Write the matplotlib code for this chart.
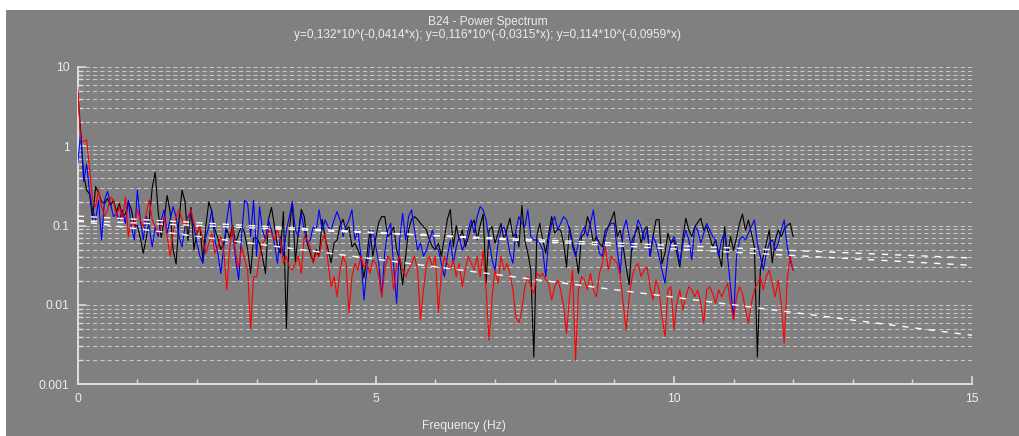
# B24 power spectrum: three channels + exponential fits, log y axis

import matplotlib.pyplot as plt
from matplotlib.patches import Rectangle
from matplotlib.ticker import LogLocator, NullFormatter, MultipleLocator
import numpy as np

plt.rcParams['font.family'] = ['Liberation Sans', 'DejaVu Sans']

# Spectrum values, one bin every 0.05 Hz from 0 to 12 Hz
freq_step = 0.05

black = [
    5.0, 1.5, 0.44, 0.28, 0.25, 0.12, 0.31, 0.26, 0.2, 0.19, 0.22, 0.18, 0.21, 0.15, 0.19, 0.13, 0.14, 0.2, 0.16, 0.1,
    0.1, 0.07, 0.045, 0.07, 0.12, 0.3, 0.47, 0.15, 0.07, 0.12, 0.24, 0.15, 0.05, 0.033, 0.12, 0.28, 0.2, 0.065, 0.17, 0.05,
    0.08, 0.1, 0.036, 0.1, 0.2, 0.15, 0.09, 0.07, 0.05, 0.06, 0.09, 0.07, 0.1, 0.06, 0.08, 0.1, 0.08, 0.05, 0.025, 0.07,
    0.07, 0.06, 0.04, 0.025, 0.12, 0.17, 0.1, 0.055, 0.045, 0.15, 0.005, 0.09, 0.2, 0.035, 0.08, 0.16, 0.13, 0.06, 0.045, 0.035,
    0.05, 0.041, 0.12, 0.07, 0.05, 0.034, 0.06, 0.066, 0.1, 0.12, 0.088, 0.097, 0.054, 0.06, 0.049, 0.04, 0.022, 0.041, 0.088, 0.041,
    0.07, 0.11, 0.13, 0.13, 0.073, 0.08, 0.097, 0.049, 0.037, 0.018, 0.041, 0.088, 0.12, 0.13, 0.12, 0.107, 0.097, 0.088, 0.066, 0.054,
    0.05, 0.06, 0.041, 0.07, 0.12, 0.16, 0.054, 0.1, 0.066, 0.088, 0.054, 0.07, 0.1, 0.118, 0.066, 0.1, 0.14, 0.019, 0.088, 0.097,
    0.06, 0.08, 0.107, 0.066, 0.09, 0.124, 0.073, 0.08, 0.054, 0.18, 0.066, 0.045, 0.028, 0.0022, 0.073, 0.107, 0.066, 0.045, 0.08, 0.13,
    0.08, 0.09, 0.088, 0.06, 0.03, 0.097, 0.06, 0.045, 0.025, 0.073, 0.08, 0.13, 0.1, 0.06, 0.073, 0.06, 0.054, 0.088, 0.097, 0.12,
    0.15, 0.073, 0.088, 0.054, 0.03, 0.018, 0.066, 0.08, 0.097, 0.06, 0.088, 0.097, 0.041, 0.073, 0.118, 0.12, 0.033, 0.045, 0.08, 0.06,
    0.066, 0.045, 0.03, 0.07, 0.124, 0.088, 0.073, 0.097, 0.11, 0.124, 0.088, 0.097, 0.073, 0.054, 0.066, 0.045, 0.03, 0.097, 0.041, 0.073,
    0.049, 0.07, 0.107, 0.14, 0.088, 0.118, 0.08, 0.054, 0.0022, 0.028, 0.041, 0.06, 0.088, 0.034, 0.066, 0.088, 0.073, 0.09, 0.1, 0.107,
    0.073]

blue = [
    0.6, 1.5, 0.36, 0.6, 0.26, 0.158, 0.118, 0.21, 0.066, 0.21, 0.27, 0.19, 0.13, 0.143, 0.118, 0.158, 0.107, 0.21, 0.097, 0.066,
    0.28, 0.118, 0.066, 0.13, 0.097, 0.054, 0.097, 0.073, 0.118, 0.158, 0.08, 0.118, 0.174, 0.13, 0.073, 0.054, 0.097, 0.13, 0.143, 0.097,
    0.06, 0.041, 0.0335, 0.073, 0.097, 0.158, 0.066, 0.045, 0.025, 0.054, 0.118, 0.21, 0.08, 0.037, 0.0207, 0.08, 0.21, 0.19, 0.073, 0.21,
    0.041, 0.174, 0.088, 0.066, 0.118, 0.088, 0.06, 0.0335, 0.073, 0.041, 0.088, 0.13, 0.2, 0.088, 0.073, 0.143, 0.088, 0.06, 0.066, 0.097,
    0.088, 0.158, 0.088, 0.118, 0.097, 0.088, 0.118, 0.15, 0.118, 0.073, 0.097, 0.118, 0.158, 0.066, 0.088, 0.041, 0.0116, 0.0276, 0.06, 0.088,
    0.054, 0.0335, 0.0127, 0.045, 0.088, 0.107, 0.03, 0.0105, 0.066, 0.143, 0.066, 0.13, 0.158, 0.088, 0.049, 0.06, 0.041, 0.049, 0.066, 0.088,
    0.054, 0.049, 0.0335, 0.0228, 0.041, 0.066, 0.0335, 0.054, 0.073, 0.049, 0.06, 0.088, 0.118, 0.08, 0.13, 0.174, 0.158, 0.118, 0.066, 0.037,
    0.0276, 0.06, 0.088, 0.097, 0.073, 0.045, 0.0335, 0.088, 0.13, 0.107, 0.097, 0.158, 0.073, 0.066, 0.066, 0.06, 0.049, 0.0228, 0.066, 0.107,
    0.13, 0.088, 0.107, 0.13, 0.118, 0.088, 0.054, 0.041, 0.06, 0.08, 0.097, 0.073, 0.107, 0.158, 0.073, 0.045, 0.041, 0.073, 0.097, 0.107,
    0.107, 0.049, 0.025, 0.088, 0.118, 0.073, 0.049, 0.08, 0.118, 0.097, 0.066, 0.088, 0.041, 0.073, 0.06, 0.041, 0.0276, 0.0188, 0.041, 0.06,
    0.073, 0.054, 0.0335, 0.06, 0.088, 0.066, 0.037, 0.097, 0.088, 0.06, 0.08, 0.107, 0.088, 0.073, 0.066, 0.041, 0.066, 0.08, 0.041, 0.017,
    0.0065, 0.041, 0.066, 0.073, 0.066, 0.08, 0.097, 0.118, 0.06, 0.041, 0.0276, 0.045, 0.06, 0.066, 0.049, 0.06, 0.088, 0.118, 0.054, 0.037,
    0.0276]

red = [
    5.5, 1.2, 1.15, 1.2, 0.5, 0.21, 0.174, 0.28, 0.174, 0.13, 0.158, 0.23, 0.21, 0.13, 0.174, 0.118, 0.23, 0.073, 0.118, 0.097,
    0.158, 0.118, 0.097, 0.143, 0.21, 0.118, 0.097, 0.08, 0.097, 0.13, 0.073, 0.041, 0.08, 0.13, 0.158, 0.118, 0.097, 0.13, 0.158, 0.107,
    0.08, 0.097, 0.066, 0.045, 0.06, 0.08, 0.045, 0.054, 0.073, 0.049, 0.0155, 0.054, 0.097, 0.045, 0.03, 0.054, 0.037, 0.0276, 0.005, 0.0228,
    0.0228, 0.041, 0.06, 0.066, 0.088, 0.08, 0.066, 0.088, 0.066, 0.0335, 0.041, 0.03, 0.0276, 0.0335, 0.041, 0.025, 0.073, 0.066, 0.054, 0.0335,
    0.045, 0.041, 0.066, 0.08, 0.0335, 0.017, 0.0228, 0.0127, 0.0276, 0.041, 0.0335, 0.0079, 0.0228, 0.0335, 0.0276, 0.041, 0.03, 0.0335, 0.025, 0.037,
    0.0335, 0.0228, 0.0127, 0.0276, 0.041, 0.037, 0.0155, 0.0335, 0.041, 0.0276, 0.0228, 0.0276, 0.0335, 0.041, 0.0276, 0.0065, 0.0155, 0.0335, 0.041, 0.03,
    0.041, 0.0079, 0.025, 0.041, 0.0335, 0.0276, 0.037, 0.0228, 0.0335, 0.017, 0.0276, 0.041, 0.0335, 0.0276, 0.041, 0.0228, 0.049, 0.0155, 0.0036, 0.0127,
    0.0276, 0.0188, 0.041, 0.0276, 0.0335, 0.025, 0.0155, 0.0071, 0.0059, 0.0087, 0.017, 0.0228, 0.017, 0.014, 0.025, 0.0228, 0.025, 0.0207, 0.0188, 0.0116,
    0.017, 0.0207, 0.0155, 0.0095, 0.0044, 0.0127, 0.0276, 0.002, 0.0155, 0.0228, 0.0207, 0.0155, 0.025, 0.0155, 0.0127, 0.025, 0.0335, 0.054, 0.0276, 0.041,
    0.037, 0.0335, 0.0228, 0.0105, 0.0048, 0.0127, 0.0228, 0.03, 0.0335, 0.0228, 0.0276, 0.03, 0.017, 0.0116, 0.0207, 0.0155, 0.0071, 0.004, 0.0155, 0.017,
    0.0048, 0.0105, 0.0155, 0.0087, 0.0127, 0.017, 0.0155, 0.0127, 0.0155, 0.0105, 0.0059, 0.0155, 0.017, 0.014, 0.0105, 0.0155, 0.0127, 0.0155, 0.0188, 0.0105,
    0.0065, 0.0127, 0.017, 0.014, 0.0087, 0.0059, 0.0105, 0.0155, 0.0188, 0.0228, 0.0155, 0.0228, 0.0276, 0.0188, 0.0127, 0.0207, 0.0105, 0.0033, 0.0207, 0.041,
    0.0276]

# Fit lines, end values at 0 and 15 Hz (straight in log space)
fit_x = [0, 15]
fit_black = [0.132, 0.0316]
fit_blue = [0.116, 0.0391]
fit_red = [0.114, 0.00415]

title = "B24 - Power Spectrum"
subtitle = "y=0,132*10^(-0,0414*x); y=0,116*10^(-0,0315*x); y=0,114*10^(-0,0959*x)"

bg = '#808080'
txt = '#ececec'

fig = plt.figure(figsize=(10.2, 4.36), dpi=100, facecolor='white')
fig.patches.append(Rectangle((6 / 1020, 0), 1 - 6 / 1020, 1 - 10 / 436,
                             transform=fig.transFigure, facecolor=bg, edgecolor='none', zorder=-10))

ax = fig.add_axes([77.7 / 1020, 51.7 / 436, 894.3 / 1020, 317.3 / 436])
ax.set_facecolor(bg)

freq = np.arange(len(black)) * freq_step
ax.plot(freq, black, color='#000000', lw=0.8, zorder=3)
ax.plot(freq, blue, color='#0000ff', lw=0.8, zorder=4)
ax.plot(freq, red, color='#ff0000', lw=0.8, zorder=5)

for fy in (fit_black, fit_blue, fit_red):
    ax.plot(fit_x, fy, color='white', lw=1.0, linestyle=(0, (4.5, 5)), zorder=6)

ax.set_yscale('log')
ax.set_xlim(0, 15)
ax.set_ylim(0.001, 10)

# Ticks
ax.yaxis.set_minor_locator(LogLocator(base=10, subs=np.arange(2, 10), numticks=50))
ax.yaxis.set_minor_formatter(NullFormatter())
ax.set_yticks([0.001, 0.01, 0.1, 1, 10])
ax.set_yticklabels(['0.001', '0.01', '0.1', '1', '10'])
ax.xaxis.set_major_locator(MultipleLocator(5))
ax.xaxis.set_minor_locator(MultipleLocator(1))

ax.tick_params(axis='both', which='major', direction='in', length=6, width=1.2,
               color='#dcdcdc', labelcolor=txt, labelsize=8.7)
ax.tick_params(axis='both', which='minor', direction='in', length=3.5, width=1.0, color='#dcdcdc')
ax.tick_params(axis='x', which='major', pad=6)
ax.tick_params(axis='y', which='major', pad=6)

# Dashed horizontal grid at every decade step
ax.grid(True, axis='y', which='both', color='#c8c8c8', lw=0.75, linestyle=(0, (4, 3)), zorder=1)
ax.set_axisbelow(True)

for side in ('top', 'right'):
    ax.spines[side].set_visible(False)
for side in ('left', 'bottom'):
    ax.spines[side].set_color('#dcdcdc')
    ax.spines[side].set_linewidth(1.5)

fig.text(488 / 1020, 1 - 24.5 / 436, title, ha='center', va='baseline', color=txt, fontsize=8.6)
fig.text(488 / 1020, 1 - 38 / 436, subtitle, ha='center', va='baseline', color=txt, fontsize=8.6)
fig.text(464 / 1020, 1 - 429 / 436, "Frequency (Hz)", ha='center', va='baseline', color=txt, fontsize=8.7)

plt.savefig("out.png", dpi=100, facecolor=fig.get_facecolor())
